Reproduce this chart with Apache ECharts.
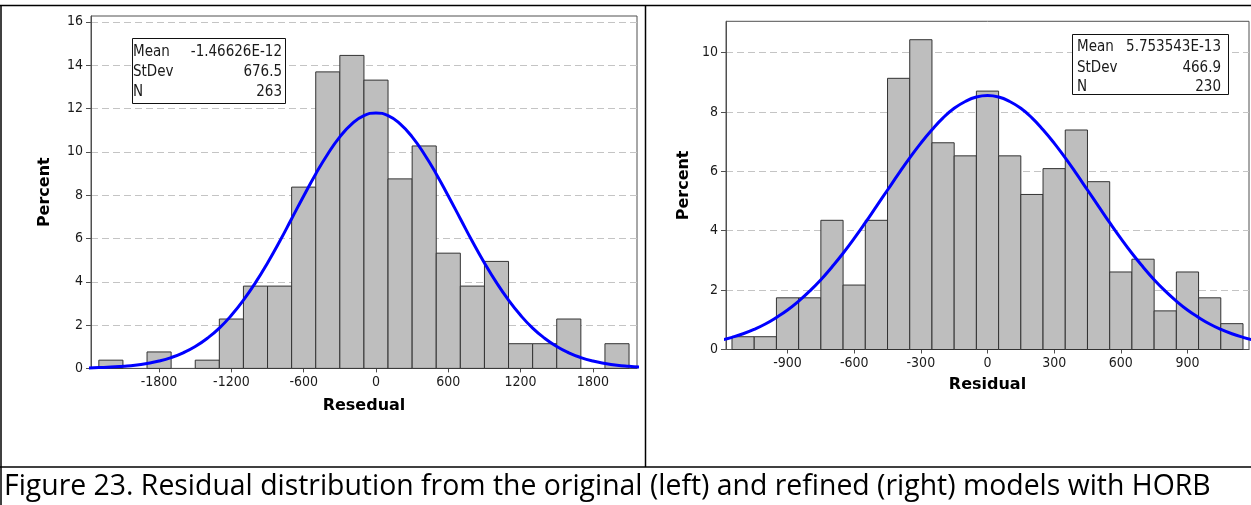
<!DOCTYPE html>
<html>
<head>
<meta charset="utf-8">
<script src="https://cdn.jsdelivr.net/npm/echarts@6/dist/echarts.min.js"></script>
<style>
  html, body { margin: 0; padding: 0; background: #fff; }
  #chart { width: 1251px; height: 505px; }
</style>
</head>
<body>
<div id="chart"></div>
<script>
// ---------- data ----------
const leftBinWidth = 200;
const leftCenters = [-2200, -2000, -1800, -1600, -1400, -1200, -1000, -800, -600, -400, -200, 0, 200, 400, 600, 800, 1000, 1200, 1400, 1600, 1800, 2000];
const leftPercent = [0.38, 0, 0.76, 0, 0.38, 2.28, 3.80, 3.80, 8.37, 13.69, 14.45, 13.31, 8.75, 10.27, 5.32, 3.80, 4.94, 1.14, 1.14, 2.28, 0, 1.14];
const leftCurveX = [-2400, -2300, -2200, -2100, -2000, -1900, -1800, -1700, -1600, -1500, -1400, -1300, -1200, -1100, -1000, -900, -800, -700, -600, -500, -400, -300, -200, -100, 0, 100, 200, 300, 400, 500, 600, 700, 800, 900, 1000, 1100, 1200, 1300, 1400, 1500, 1600, 1700, 1800, 1900, 2000, 2100, 2200];
const leftCurveY = [0.02, 0.04, 0.06, 0.10, 0.15, 0.23, 0.34, 0.50, 0.72, 1.01, 1.39, 1.86, 2.45, 3.15, 3.96, 4.87, 5.86, 6.91, 7.96, 8.98, 9.90, 10.69, 11.29, 11.67, 11.79, 11.67, 11.29, 10.69, 9.90, 8.98, 7.96, 6.91, 5.86, 4.87, 3.96, 3.15, 2.45, 1.86, 1.39, 1.01, 0.72, 0.50, 0.34, 0.23, 0.15, 0.10, 0.06];
const leftXTicks = [-1800, -1200, -600, 0, 600, 1200, 1800];
const leftYTicks = [0, 2, 4, 6, 8, 10, 12, 14, 16];
const leftStatLabels = ['Mean', 'StDev', 'N'];
const leftStatValues = ['-1.46626E-12', '676.5', '263'];
const leftXName = 'Resedual';

const rightBinWidth = 100;
const rightCenters = [-1100, -1000, -900, -800, -700, -600, -500, -400, -300, -200, -100, 0, 100, 200, 300, 400, 500, 600, 700, 800, 900, 1000, 1100];
const rightPercent = [0.43, 0.43, 1.74, 1.74, 4.35, 2.17, 4.35, 9.13, 10.43, 6.96, 6.52, 8.70, 6.52, 5.22, 6.09, 7.39, 5.65, 2.61, 3.04, 1.30, 2.61, 1.74, 0.87];
const rightCurveX = [-1200, -1150, -1100, -1050, -1000, -950, -900, -850, -800, -750, -700, -650, -600, -550, -500, -450, -400, -350, -300, -250, -200, -150, -100, -50, 0, 50, 100, 150, 200, 250, 300, 350, 400, 450, 500, 550, 600, 650, 700, 750, 800, 850, 900, 950, 1000, 1050, 1100, 1150, 1200];
const rightCurveY = [0.31, 0.41, 0.53, 0.68, 0.86, 1.08, 1.33, 1.63, 1.97, 2.35, 2.78, 3.24, 3.74, 4.27, 4.82, 5.37, 5.92, 6.45, 6.95, 7.40, 7.80, 8.12, 8.35, 8.50, 8.55, 8.50, 8.35, 8.12, 7.80, 7.40, 6.95, 6.45, 5.92, 5.37, 4.82, 4.27, 3.74, 3.24, 2.78, 2.35, 1.97, 1.63, 1.33, 1.08, 0.86, 0.68, 0.53, 0.41, 0.31];
const rightXTicks = [-900, -600, -300, 0, 300, 600, 900];
const rightYTicks = [0, 2, 4, 6, 8, 10];
const rightStatLabels = ['Mean', 'StDev', 'N'];
const rightStatValues = ['5.753543E-13', '466.9', '230'];
const rightXName = 'Residual';

const yName = 'Percent';
const caption = 'Figure 23. Residual distribution from the original (left) and refined (right) models with HORB';

// ---------- styling ----------
const tickFont = 'DejaVu Sans Condensed';
const textColor = '#1a1a1a';
const frameColor = '#505050';

function pairs(xs, ys) { return xs.map((x, i) => [x, ys[i]]); }
function plain(v) { return String(v); }

function barRenderer(binWidth) {
  return function (params, api) {
    const x = api.value(0), y = api.value(1);
    if (!y) return null;
    const p0 = api.coord([x - binWidth / 2, y]);
    const p1 = api.coord([x + binWidth / 2, 0]);
    return {
      type: 'rect',
      shape: { x: p0[0], y: p0[1], width: p1[0] - p0[0], height: p1[1] - p0[1] },
      style: { fill: '#bebebe', stroke: '#333333', lineWidth: 1 }
    };
  };
}

function xAxisCfg(gridIndex, min, max, ticks, name, nameGap) {
  return {
    type: 'value', gridIndex, min, max,
    axisLine: { show: true, onZero: false, lineStyle: { color: frameColor, width: 1 } },
    axisTick: { show: true, customValues: ticks, length: 4, lineStyle: { color: frameColor } },
    axisLabel: { customValues: ticks, formatter: plain, margin: 7, fontFamily: tickFont, fontSize: 14, color: textColor },
    splitLine: { show: false },
    name, nameLocation: 'middle', nameGap,
    nameTextStyle: { fontFamily: 'DejaVu Sans', fontWeight: 'bold', fontSize: 16, color: '#000' }
  };
}

function yAxisCfg(gridIndex, max, ticks, nameGap) {
  return {
    type: 'value', gridIndex, min: 0, max, interval: 2,
    axisLine: { show: true, onZero: false, lineStyle: { color: frameColor, width: 1 } },
    axisTick: { show: true, customValues: ticks, length: 5, lineStyle: { color: frameColor } },
    axisLabel: { customValues: ticks, formatter: plain, margin: 8, fontFamily: tickFont, fontSize: 14, color: textColor },
    splitLine: { show: true, lineStyle: { color: '#c4c4c4', type: [7, 4], width: 1 } },
    name: yName, nameLocation: 'middle', nameGap, nameRotate: 90,
    nameTextStyle: { fontFamily: 'DejaVu Sans', fontWeight: 'bold', fontSize: 16, color: '#000' }
  };
}

function statBox(x, y, w, h, labelX, valueX, rows, labels, values) {
  const els = [{
    type: 'rect', shape: { x, y, width: w, height: h },
    style: { fill: '#fff', stroke: '#111', lineWidth: 1 }, z: 10
  }];
  labels.forEach((lab, i) => {
    els.push({ type: 'text', x: labelX, y: rows[i], z: 11,
      style: { text: lab, fontFamily: tickFont, fontSize: 15, fill: textColor, align: 'left', verticalAlign: 'middle' } });
    els.push({ type: 'text', x: valueX, y: rows[i], z: 11,
      style: { text: values[i], fontFamily: tickFont, fontSize: 15, fill: textColor, align: 'right', verticalAlign: 'middle' } });
  });
  return els;
}

const lineStyleTable = { stroke: '#000', lineWidth: 1.5 };

const option = {
  animation: false,
  backgroundColor: '#fff',
  grid: [
    { left: 91, top: 16, width: 546, height: 352.4, show: true, borderColor: frameColor, borderWidth: 1, backgroundColor: 'transparent' },
    { left: 726, top: 21.3, width: 523, height: 328.2, show: true, borderColor: frameColor, borderWidth: 1, backgroundColor: 'transparent' }
  ],
  xAxis: [
    xAxisCfg(0, -2365, 2166, leftXTicks, leftXName, 29),
    xAxisCfg(1, -1177, 1177, rightXTicks, rightXName, 27)
  ],
  yAxis: [
    yAxisCfg(0, 16.27, leftYTicks, 38),
    yAxisCfg(1, 11.05, rightYTicks, 34)
  ],
  series: [
    { type: 'custom', xAxisIndex: 0, yAxisIndex: 0, z: 2, renderItem: barRenderer(leftBinWidth), data: pairs(leftCenters, leftPercent) },
    { type: 'line', xAxisIndex: 0, yAxisIndex: 0, z: 3, smooth: true, showSymbol: false, clip: true,
      lineStyle: { color: '#0000ff', width: 3 }, data: pairs(leftCurveX, leftCurveY) },
    { type: 'custom', xAxisIndex: 1, yAxisIndex: 1, z: 2, renderItem: barRenderer(rightBinWidth), data: pairs(rightCenters, rightPercent) },
    { type: 'line', xAxisIndex: 1, yAxisIndex: 1, z: 3, smooth: true, showSymbol: false, clip: true,
      lineStyle: { color: '#0000ff', width: 3 }, data: pairs(rightCurveX, rightCurveY) }
  ],
  graphic: [
    { type: 'line', shape: { x1: 0, y1: 5.5, x2: 1251, y2: 5.5 }, style: lineStyleTable, z: 20 },
    { type: 'line', shape: { x1: 1, y1: 5, x2: 1, y2: 505 }, style: lineStyleTable, z: 20 },
    { type: 'line', shape: { x1: 645.5, y1: 5, x2: 645.5, y2: 467 }, style: lineStyleTable, z: 20 },
    { type: 'line', shape: { x1: 0, y1: 467, x2: 1251, y2: 467 }, style: lineStyleTable, z: 20 },
    ...statBox(132.5, 38.5, 153, 65, 133, 282, [51.7, 71.7, 92.3], leftStatLabels, leftStatValues),
    ...statBox(1072.5, 34.5, 156, 60, 1077, 1221, [47.3, 67.7, 87.3], rightStatLabels, rightStatValues),
    { type: 'text', x: 4, y: 487, z: 20,
      style: { text: caption, fontFamily: 'Open Sans', fontSize: 28.4, fill: '#000', align: 'left', verticalAlign: 'middle' } }
  ]
};

const chart = echarts.init(document.getElementById('chart'), null, { renderer: 'canvas' });
chart.setOption(option);
</script>
</body>
</html>
